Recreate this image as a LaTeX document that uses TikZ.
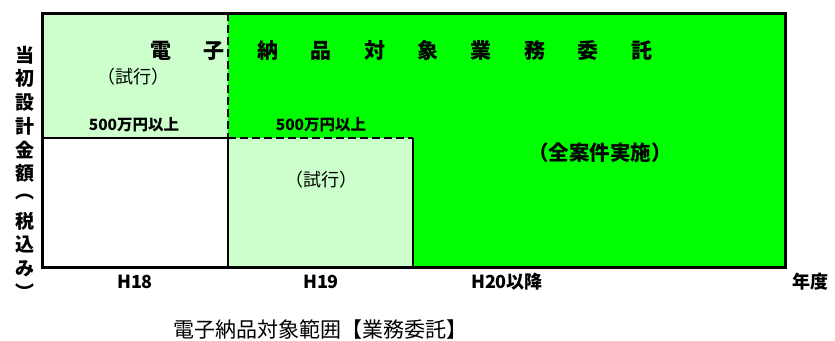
\documentclass[tikz,border=0pt]{standalone}
\usepackage{fontspec}
\setmainfont{Noto Sans CJK JP}
\usetikzlibrary{positioning}

\definecolor{palegreen}{HTML}{CCFFCC}
\definecolor{vividgreen}{HTML}{00FF00}

\begin{document}
\begin{tikzpicture}[
                x = 1pt, y = -1pt, % pixel units, y downwards
                frame/.style = {line width = 3pt},
                divider/.style = {line width = 1.8pt},
                dashdiv/.style = {line width = 1.8pt, dash pattern = on 8pt off 4pt},
                headchar/.style = {font = \bfseries\fontsize{21}{21}\selectfont, inner sep = 0pt},
                sidechar/.style = {font = \bfseries\fontsize{19}{19}\selectfont, inner sep = 0pt},
                amount/.style = {font = \bfseries\fontsize{15.5}{15.5}\selectfont, inner sep = 0pt},
                trial/.style = {font = \fontsize{18}{18}\selectfont, inner sep = 0pt},
                note/.style = {font = \bfseries\fontsize{20.5}{20.5}\selectfont, inner sep = 0pt},
                yearlab/.style = {font = \bfseries\fontsize{18}{18}\selectfont, inner sep = 0pt}
            ]

            \useasboundingbox (0,0) rectangle (835,340);

            % areas
            \fill[palegreen] (42,13) rectangle (228,138);
            \fill[vividgreen] (228,13) rectangle (785,138);
            \fill[vividgreen] (413,138) rectangle (785,267);
            \fill[palegreen] (228,138) rectangle (413,267);

            % inner borders
            \draw[divider] (42,138) -- (228,138);
            \draw[divider] (228,138) -- (228,267);
            \draw[divider] (413,138) -- (413,267);
            \draw[dashdiv] (228,13) -- (228,138);
            \draw[dashdiv] (228,138) -- (413,138);

            % outer frame
            \draw[frame] (42,13) rectangle (785,267);

            % heading, one character at a time
            \foreach \c [count=\i from 0] in {電,子,納,品,対,象,業,務,委,託}
                \node[headchar] (head\i) at ({161+\i*53.4},51) {\c};

            % vertical axis label
            \foreach \c [count=\i from 0] in {当,初,設,計,金,額,︵,税,込,み,︶}
                \node[sidechar] (side\i) at (25,{55+\i*23.7}) {\c};

            \node[trial] (trialA) at (133,77) {（試行）};
            \node[amount] (minA) at (134,125) {500万円以上};
            \node[amount] (minB) at (321,125) {500万円以上};
            \node[trial] (trialB) at (321,180) {（試行）};
            \node[note] (allcases) at (600,153) {（全案件実施）};

            % years
            \node[yearlab] (h18) at (135,282) {H18};
            \node[yearlab] (h19) at (321,282) {H19};
            \node[yearlab] (h20) at (507,282) {H20以降};
            \node[yearlab, anchor = west] (fy) at (792,282) {年度};

            \node[font = \fontsize{21}{21}\selectfont, inner sep = 0pt] (caption) at (320,330)
                {電子納品対象範囲【業務委託】};

        \end{tikzpicture}
\end{document}
